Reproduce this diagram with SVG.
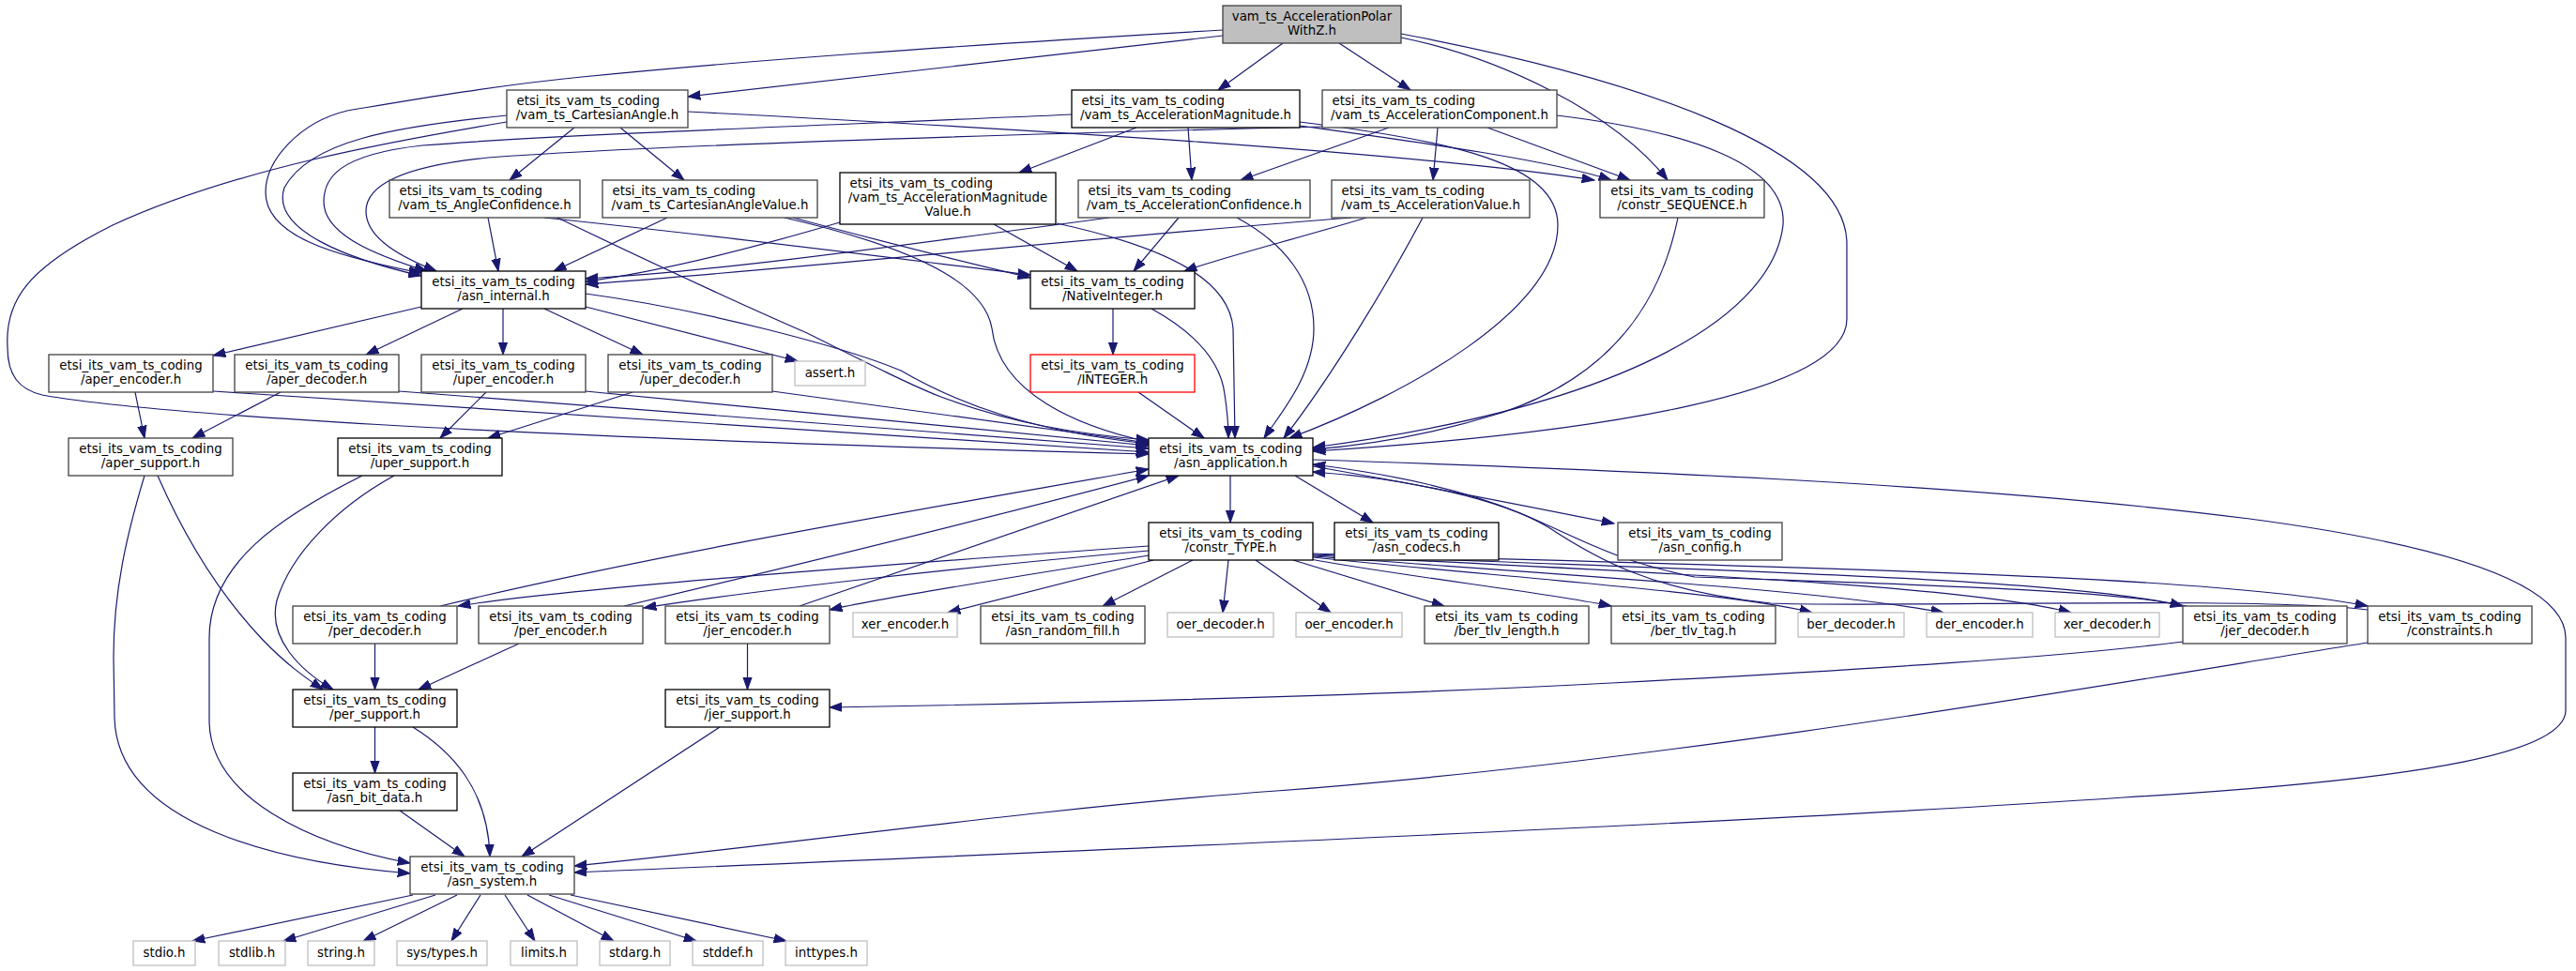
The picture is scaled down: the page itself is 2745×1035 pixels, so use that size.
<svg xmlns="http://www.w3.org/2000/svg" width="2745" height="1035" viewBox="0 0 2745 1035">
<style>
rect{fill:#fff;stroke:#404040;stroke-width:1.3}
.k rect{stroke:#000}
.x rect{stroke:#bfbfbf}
.r rect{stroke:#ff0000}
.root rect{fill:#bfbfbf}
text{font-family:"DejaVu Sans",sans-serif;font-size:13.33px;fill:#000}
.c{text-anchor:middle}
#edges path{fill:none;stroke:#191970;stroke-width:1.2;marker-end:url(#a)}
</style>
<defs>
<marker id="a" markerUnits="userSpaceOnUse" markerWidth="15" markerHeight="12" refX="13.3" refY="6" orient="auto" viewBox="0 0 15 12"><path d="M0,1.3 L13.3,6 L0,10.7 z" fill="#191970" stroke="#191970" stroke-width="1"/></marker>
</defs>
<rect x="0" y="0" width="2745" height="1035" style="fill:#fff;stroke:none"/>
<g id="edges">
<path d="M1303,38 L733,103"/>
<path d="M1367,46 L1298,96"/>
<path d="M1427,46 L1503,96"/>
<path d="M1493,40 C1600,62 1720,120 1777,192"/>
<path d="M1493,36 C1750,85 1968,160 1968,260 L1968,340 C1968,420 1700,462 1399,481"/>
<path d="M1303,32 C1000,50 800,64 620,82 C520,92 430,108 370,118 C320,130 283,170 283,205 C283,250 350,272 449,291"/>
<path d="M612,136 L543,192"/>
<path d="M661,136 L729,192"/>
<path d="M733,119 C1100,138 1500,162 1699,192"/>
<path d="M540,123 C420,135 330,150 303,200 C288,245 370,276 449,294"/>
<path d="M540,130 C420,150 250,180 120,240 C30,285 5,320 8,370 C8,400 20,415 45,421 C150,440 500,465 1224,484"/>
<path d="M520,232 L531,289"/>
<path d="M580,232 C800,255 950,275 1098,293"/>
<path d="M594,232 C700,283 780,320 860,355 C930,390 970,410 1000,422 C1080,452 1150,463 1224,469"/>
<path d="M711,232 L590,289"/>
<path d="M845,232 C950,260 1030,280 1098,296"/>
<path d="M836,232 C1000,270 1050,310 1057,350 C1065,420 1150,455 1224,471"/>
<path d="M1211,136 L1086,184"/>
<path d="M1266,136 L1270,192"/>
<path d="M1385,134 C1500,150 1650,170 1717,192"/>
<path d="M1142,122 C900,133 600,143 450,155 C360,165 345,190 345,215 C345,250 400,272 455,289"/>
<path d="M1385,130 C1550,150 1660,175 1660,240 C1660,330 1500,420 1374,467"/>
<path d="M1532,136 L1527,192"/>
<path d="M1480,136 L1322,192"/>
<path d="M1585,136 L1737,192"/>
<path d="M1409,135 C1000,145 700,155 520,168 C420,178 390,200 390,225 C390,255 430,275 465,289"/>
<path d="M1659,123 C1800,140 1905,175 1900,240 C1890,330 1750,430 1399,477"/>
<path d="M895,237 C800,265 700,290 624,300"/>
<path d="M1059,239 L1148,289"/>
<path d="M1126,238 C1250,265 1310,300 1314,350 L1316,467"/>
<path d="M1182,232 C900,270 750,290 624,297"/>
<path d="M1256,232 L1208,289"/>
<path d="M1318,232 C1370,260 1400,300 1400,350 C1400,400 1365,440 1347,467"/>
<path d="M1440,232 C1200,250 900,282 624,303"/>
<path d="M1456,232 C1380,255 1300,275 1262,289"/>
<path d="M1516,232 C1480,300 1420,400 1368,467"/>
<path d="M1788,232 C1770,320 1720,400 1600,440 C1520,465 1450,475 1399,479"/>
<path d="M624,313 C750,330 900,370 960,395 C1020,430 1100,460 1224,473"/>
<path d="M624,327 L850,385"/>
<path d="M449,327 L227,379"/>
<path d="M493,329 L390,378"/>
<path d="M536,329 L536,378"/>
<path d="M580,329 L685,378"/>
<path d="M1186,329 L1186,378"/>
<path d="M1227,329 C1265,350 1300,380 1305,420 C1308,440 1309,455 1309,467"/>
<path d="M1213,418 L1283,467"/>
<path d="M144,418 L154,467"/>
<path d="M227,417 L1224,482"/>
<path d="M299,418 L205,467"/>
<path d="M425,417 L1224,478"/>
<path d="M518,418 L469,467"/>
<path d="M624,417 L1224,475"/>
<path d="M674,418 L520,467"/>
<path d="M823,417 L1224,472"/>
<path d="M168,507 C200,580 240,640 280,682 C305,708 325,722 344,735"/>
<path d="M154,507 C135,570 121,630 121,700 L122,765 C125,880 300,920 437,931"/>
<path d="M420,507 C360,540 310,590 295,640 C285,680 320,715 355,735"/>
<path d="M386,507 C300,550 223,600 223,680 L223,770 C225,850 330,900 437,920"/>
<path d="M399.5,686 L399.5,735"/>
<path d="M469,646 C700,590 1000,540 1224,500"/>
<path d="M553,686 L446,735"/>
<path d="M665,646 C900,590 1100,540 1224,507"/>
<path d="M796.5,686 L796.5,735"/>
<path d="M852,646 L1256,507"/>
<path d="M2326,684 C2200,700 2000,713 1717,728 C1400,745 1000,752 884,754"/>
<path d="M2330,646 C2250,628 2000,622 1806,615 C1720,598 1680,572 1620,547 C1560,522 1480,505 1399,495"/>
<path d="M2523,650 C2400,635 2000,648 1887,643 C1760,630 1700,595 1650,562 C1600,532 1500,510 1399,503"/>
<path d="M2523,685 C2300,720 1800,810 1360,843 C1100,862 800,905 612,923"/>
<path d="M1311,507 L1311,557"/>
<path d="M1380,507 L1463,557"/>
<path d="M1399,497 C1520,518 1630,540 1720,558"/>
<path d="M1399,490 C1700,500 2100,515 2397,553 C2600,580 2734,620 2734,680 L2734,757 C2734,800 2600,830 2263,850 C1900,875 1200,905 612,930"/>
<path d="M1224,582 C900,605 600,628 488,646"/>
<path d="M1224,587 C1000,607 800,630 686,648"/>
<path d="M1224,592 C1100,612 950,635 884,650"/>
<path d="M1229,597 L1010,653"/>
<path d="M1271,597 L1175,646"/>
<path d="M1309,597 L1303,653"/>
<path d="M1338,597 L1418,653"/>
<path d="M1378,597 L1539,646"/>
<path d="M1396,596 C1500,615 1650,632 1717,646"/>
<path d="M1399,594 C1600,615 1850,632 1931,653"/>
<path d="M1399,593 C1700,615 1950,630 2071,653"/>
<path d="M1399,592 C1800,612 2100,625 2207,653"/>
<path d="M1399,591 C1800,608 2200,615 2326,646"/>
<path d="M1399,590 C1900,605 2350,612 2523,646"/>
<path d="M399.5,775 L399.5,824"/>
<path d="M440,775 C480,800 520,840 522,913"/>
<path d="M426,864 L495,913"/>
<path d="M767,775 L556,913"/>
<path d="M440,954 L205,1003"/>
<path d="M464,954 L302,1003"/>
<path d="M487,954 L387,1003"/>
<path d="M512,954 L481,1003"/>
<path d="M538,954 L570,1003"/>
<path d="M562,954 L654,1003"/>
<path d="M585,954 L742,1003"/>
<path d="M608,954 L838,1003"/>
</g>
<g id="n_root" class="root"><rect x="1303" y="6" width="190" height="40"/><text class="c" x="1398" y="22">vam_ts_AccelerationPolar</text><text class="c" x="1398" y="37">WithZ.h</text></g>
<g id="n_cartesianangle"><rect x="540" y="96" width="193" height="40"/><text x="550.5" y="112">etsi_its_vam_ts_coding</text><text class="c" x="636.5" y="127">/vam_ts_CartesianAngle.h</text></g>
<g id="n_accmagnitude" class="k"><rect x="1142" y="96" width="243" height="40"/><text x="1152.5" y="112">etsi_its_vam_ts_coding</text><text class="c" x="1263.5" y="127">/vam_ts_AccelerationMagnitude.h</text></g>
<g id="n_acccomponent"><rect x="1409" y="96" width="250" height="40"/><text x="1419.5" y="112">etsi_its_vam_ts_coding</text><text class="c" x="1534" y="127">/vam_ts_AccelerationComponent.h</text></g>
<g id="n_angleconf"><rect x="415" y="192" width="203" height="40"/><text x="425.5" y="208">etsi_its_vam_ts_coding</text><text class="c" x="516.5" y="223">/vam_ts_AngleConfidence.h</text></g>
<g id="n_cartanglevalue"><rect x="642" y="192" width="229" height="40"/><text x="652.5" y="208">etsi_its_vam_ts_coding</text><text class="c" x="756.5" y="223">/vam_ts_CartesianAngleValue.h</text></g>
<g id="n_accmagvalue" class="k"><rect x="895" y="184" width="230" height="55"/><text x="905.5" y="200">etsi_its_vam_ts_coding</text><text class="c" x="1010" y="215">/vam_ts_AccelerationMagnitude</text><text class="c" x="1010" y="230">Value.h</text></g>
<g id="n_accconf"><rect x="1149" y="192" width="247" height="40"/><text x="1159.5" y="208">etsi_its_vam_ts_coding</text><text class="c" x="1272.5" y="223">/vam_ts_AccelerationConfidence.h</text></g>
<g id="n_accvalue"><rect x="1419" y="192" width="211" height="40"/><text x="1429.5" y="208">etsi_its_vam_ts_coding</text><text class="c" x="1524.5" y="223">/vam_ts_AccelerationValue.h</text></g>
<g id="n_constr_sequence"><rect x="1705" y="192" width="175" height="40"/><text class="c" x="1792.5" y="208">etsi_its_vam_ts_coding</text><text class="c" x="1792.5" y="223">/constr_SEQUENCE.h</text></g>
<g id="n_asn_internal" class="k"><rect x="449" y="289" width="175" height="40"/><text class="c" x="536.5" y="305">etsi_its_vam_ts_coding</text><text class="c" x="536.5" y="320">/asn_internal.h</text></g>
<g id="n_nativeinteger" class="k"><rect x="1098" y="289" width="175" height="40"/><text class="c" x="1185.5" y="305">etsi_its_vam_ts_coding</text><text class="c" x="1185.5" y="320">/NativeInteger.h</text></g>
<g id="n_aper_encoder"><rect x="52" y="378" width="175" height="40"/><text class="c" x="139.5" y="394">etsi_its_vam_ts_coding</text><text class="c" x="139.5" y="409">/aper_encoder.h</text></g>
<g id="n_aper_decoder"><rect x="250" y="378" width="175" height="40"/><text class="c" x="337.5" y="394">etsi_its_vam_ts_coding</text><text class="c" x="337.5" y="409">/aper_decoder.h</text></g>
<g id="n_uper_encoder"><rect x="449" y="378" width="175" height="40"/><text class="c" x="536.5" y="394">etsi_its_vam_ts_coding</text><text class="c" x="536.5" y="409">/uper_encoder.h</text></g>
<g id="n_uper_decoder"><rect x="648" y="378" width="175" height="40"/><text class="c" x="735.5" y="394">etsi_its_vam_ts_coding</text><text class="c" x="735.5" y="409">/uper_decoder.h</text></g>
<g id="n_assert" class="x"><rect x="847" y="385" width="75" height="26"/><text class="c" x="884.5" y="402">assert.h</text></g>
<g id="n_integer" class="r"><rect x="1098" y="378" width="175" height="40"/><text class="c" x="1185.5" y="394">etsi_its_vam_ts_coding</text><text class="c" x="1185.5" y="409">/INTEGER.h</text></g>
<g id="n_aper_support"><rect x="73" y="467" width="175" height="40"/><text class="c" x="160.5" y="483">etsi_its_vam_ts_coding</text><text class="c" x="160.5" y="498">/aper_support.h</text></g>
<g id="n_uper_support" class="k"><rect x="360" y="467" width="175" height="40"/><text class="c" x="447.5" y="483">etsi_its_vam_ts_coding</text><text class="c" x="447.5" y="498">/uper_support.h</text></g>
<g id="n_asn_application" class="k"><rect x="1224" y="467" width="175" height="40"/><text class="c" x="1311.5" y="483">etsi_its_vam_ts_coding</text><text class="c" x="1311.5" y="498">/asn_application.h</text></g>
<g id="n_constr_type" class="k"><rect x="1224" y="557" width="175" height="40"/><text class="c" x="1311.5" y="573">etsi_its_vam_ts_coding</text><text class="c" x="1311.5" y="588">/constr_TYPE.h</text></g>
<g id="n_asn_codecs" class="k"><rect x="1422" y="557" width="175" height="40"/><text class="c" x="1509.5" y="573">etsi_its_vam_ts_coding</text><text class="c" x="1509.5" y="588">/asn_codecs.h</text></g>
<g id="n_asn_config"><rect x="1724" y="557" width="175" height="40"/><text class="c" x="1811.5" y="573">etsi_its_vam_ts_coding</text><text class="c" x="1811.5" y="588">/asn_config.h</text></g>
<g id="n_per_decoder"><rect x="312" y="646" width="175" height="40"/><text class="c" x="399.5" y="662">etsi_its_vam_ts_coding</text><text class="c" x="399.5" y="677">/per_decoder.h</text></g>
<g id="n_per_encoder"><rect x="510" y="646" width="175" height="40"/><text class="c" x="597.5" y="662">etsi_its_vam_ts_coding</text><text class="c" x="597.5" y="677">/per_encoder.h</text></g>
<g id="n_jer_encoder"><rect x="709" y="646" width="175" height="40"/><text class="c" x="796.5" y="662">etsi_its_vam_ts_coding</text><text class="c" x="796.5" y="677">/jer_encoder.h</text></g>
<g id="n_xer_encoder" class="x"><rect x="909" y="653" width="111" height="26"/><text class="c" x="964.5" y="670">xer_encoder.h</text></g>
<g id="n_asn_random_fill"><rect x="1045" y="646" width="175" height="40"/><text class="c" x="1132.5" y="662">etsi_its_vam_ts_coding</text><text class="c" x="1132.5" y="677">/asn_random_fill.h</text></g>
<g id="n_oer_decoder" class="x"><rect x="1244" y="653" width="113" height="26"/><text class="c" x="1300.5" y="670">oer_decoder.h</text></g>
<g id="n_oer_encoder" class="x"><rect x="1381" y="653" width="113" height="26"/><text class="c" x="1437.5" y="670">oer_encoder.h</text></g>
<g id="n_ber_tlv_length"><rect x="1518" y="646" width="175" height="40"/><text class="c" x="1605.5" y="662">etsi_its_vam_ts_coding</text><text class="c" x="1605.5" y="677">/ber_tlv_length.h</text></g>
<g id="n_ber_tlv_tag"><rect x="1717" y="646" width="175" height="40"/><text class="c" x="1804.5" y="662">etsi_its_vam_ts_coding</text><text class="c" x="1804.5" y="677">/ber_tlv_tag.h</text></g>
<g id="n_ber_decoder" class="x"><rect x="1916" y="653" width="113" height="26"/><text class="c" x="1972.5" y="670">ber_decoder.h</text></g>
<g id="n_der_encoder" class="x"><rect x="2053" y="653" width="113" height="26"/><text class="c" x="2109.5" y="670">der_encoder.h</text></g>
<g id="n_xer_decoder" class="x"><rect x="2190" y="653" width="111" height="26"/><text class="c" x="2245.5" y="670">xer_decoder.h</text></g>
<g id="n_jer_decoder"><rect x="2326" y="646" width="175" height="40"/><text class="c" x="2413.5" y="662">etsi_its_vam_ts_coding</text><text class="c" x="2413.5" y="677">/jer_decoder.h</text></g>
<g id="n_constraints"><rect x="2523" y="646" width="175" height="40"/><text class="c" x="2610.5" y="662">etsi_its_vam_ts_coding</text><text class="c" x="2610.5" y="677">/constraints.h</text></g>
<g id="n_per_support" class="k"><rect x="312" y="735" width="175" height="40"/><text class="c" x="399.5" y="751">etsi_its_vam_ts_coding</text><text class="c" x="399.5" y="766">/per_support.h</text></g>
<g id="n_jer_support" class="k"><rect x="709" y="735" width="175" height="40"/><text class="c" x="796.5" y="751">etsi_its_vam_ts_coding</text><text class="c" x="796.5" y="766">/jer_support.h</text></g>
<g id="n_asn_bit_data" class="k"><rect x="312" y="824" width="175" height="40"/><text class="c" x="399.5" y="840">etsi_its_vam_ts_coding</text><text class="c" x="399.5" y="855">/asn_bit_data.h</text></g>
<g id="n_asn_system"><rect x="437" y="913" width="175" height="40"/><text class="c" x="524.5" y="929">etsi_its_vam_ts_coding</text><text class="c" x="524.5" y="944">/asn_system.h</text></g>
<g id="n_stdio" class="x"><rect x="142" y="1003" width="66" height="26"/><text class="c" x="175" y="1020">stdio.h</text></g>
<g id="n_stdlib" class="x"><rect x="233" y="1003" width="71" height="26"/><text class="c" x="268.5" y="1020">stdlib.h</text></g>
<g id="n_string" class="x"><rect x="328" y="1003" width="71" height="26"/><text class="c" x="363.5" y="1020">string.h</text></g>
<g id="n_systypes" class="x"><rect x="423" y="1003" width="96" height="26"/><text class="c" x="471" y="1020">sys/types.h</text></g>
<g id="n_limits" class="x"><rect x="544" y="1003" width="71" height="26"/><text class="c" x="579.5" y="1020">limits.h</text></g>
<g id="n_stdarg" class="x"><rect x="639" y="1003" width="75" height="26"/><text class="c" x="676.5" y="1020">stdarg.h</text></g>
<g id="n_stddef" class="x"><rect x="738" y="1003" width="75" height="26"/><text class="c" x="775.5" y="1020">stddef.h</text></g>
<g id="n_inttypes" class="x"><rect x="837" y="1003" width="87" height="26"/><text class="c" x="880.5" y="1020">inttypes.h</text></g>
</svg>
